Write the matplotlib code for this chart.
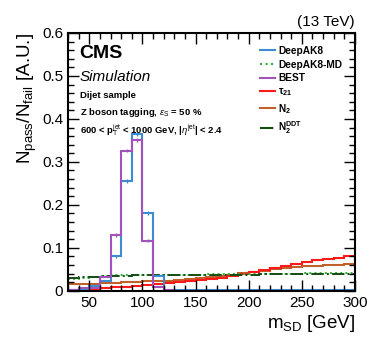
import numpy as np
import matplotlib
matplotlib.use("Agg")
import matplotlib.pyplot as plt
from matplotlib.ticker import MultipleLocator
from matplotlib.lines import Line2D

edges = np.arange(30, 301, 10)

deepak8 = [0.0, 0.003, 0.012, 0.023, 0.080, 0.256, 0.364, 0.181, 0.035, 0.003,
           0.002, 0.001, 0.001, 0.001, 0.001, 0.001, 0.001, 0.001, 0.001, 0.001,
           0.001, 0.001, 0.002, 0.002, 0.002, 0.002, 0.002]
best = [0.003, 0.006, 0.006, 0.033, 0.130, 0.326, 0.351, 0.117, 0.010, 0.001,
        0.0, 0.0, 0.0, 0.0, 0.0, 0.0, 0.0, 0.0, 0.0, 0.0,
        0.0, 0.0, 0.0, 0.0, 0.0, 0.0, 0.0]
tau21 = [0.003, 0.004, 0.005, 0.006, 0.008, 0.010, 0.012, 0.013, 0.015, 0.018,
         0.020, 0.022, 0.025, 0.028, 0.031, 0.035, 0.040, 0.045, 0.049, 0.054,
         0.059, 0.063, 0.067, 0.071, 0.074, 0.077, 0.081]
n2 = [0.015, 0.016, 0.017, 0.018, 0.019, 0.020, 0.021, 0.022, 0.023, 0.024,
      0.026, 0.028, 0.030, 0.032, 0.035, 0.038, 0.041, 0.044, 0.047, 0.050,
      0.053, 0.055, 0.057, 0.059, 0.060, 0.061, 0.062]
deepak8md = [0.028, 0.031, 0.033, 0.035, 0.036, 0.036, 0.037, 0.037, 0.037, 0.038,
             0.038, 0.038, 0.038, 0.039, 0.039, 0.039, 0.039, 0.039, 0.040, 0.040,
             0.040, 0.040, 0.041, 0.041, 0.041, 0.041, 0.041]
n2ddt = [0.030, 0.032, 0.033, 0.034, 0.035, 0.035, 0.036, 0.036, 0.036, 0.037,
         0.037, 0.037, 0.037, 0.038, 0.038, 0.038, 0.038, 0.038, 0.039, 0.039,
         0.039, 0.039, 0.039, 0.039, 0.039, 0.039, 0.039]

labels = ["DeepAK8", "DeepAK8-MD", "BEST", r"$\mathbf{\tau_{21}}$", r"N$_\mathbf{2}$", r"N$_\mathbf{2}^\mathbf{DDT}$"]
colors = ["#3d8bd0", "#2fb52f", "#a052bd", "#ff1a1a", "#c0602a", "#144d14"]
styles = ["-", ":", "-", "-", "-", "-."]

plt.rcParams['font.family'] = ['Liberation Sans', 'DejaVu Sans']
plt.rcParams['mathtext.fontset'] = 'custom'
plt.rcParams['mathtext.rm'] = 'Liberation Sans'
plt.rcParams['mathtext.it'] = 'Liberation Sans:italic'
plt.rcParams['mathtext.bf'] = 'Liberation Sans:bold'

fig = plt.figure(figsize=(3.74, 3.43), dpi=100)
ax = fig.add_axes([0.182, 0.152, 0.767, 0.752])

series = [deepak8, deepak8md, best, tau21, n2, n2ddt]
order = [4, 3, 1, 5, 0, 2]
centers = 0.5 * (edges[:-1] + edges[1:])
for i in order:
    v = np.array(series[i])
    ax.stairs(v, edges, color=colors[i], linestyle=styles[i],
              lw=1.5 if styles[i] == "-" else 1.4, baseline=None)
    if i in (0, 2):
        ax.errorbar(centers, v, yerr=0.004 * (v > 0.05), fmt='none', ecolor=colors[i], elinewidth=1.0)

lh = [Line2D([], [], color=colors[i], linestyle=styles[i], lw=1.5) for i in range(6)]
leg = ax.legend(lh, labels, loc='upper left', bbox_to_anchor=(0.655, 0.965), frameon=False,
                fontsize=7.3, handlelength=1.5, handletextpad=0.3, labelspacing=0.35, borderaxespad=0)
for t in leg.get_texts():
    t.set_fontweight('bold')

ax.set_xlim(30, 300)
ax.set_ylim(0, 0.6)
ax.xaxis.set_major_locator(MultipleLocator(50))
ax.xaxis.set_minor_locator(MultipleLocator(10))
ax.yaxis.set_major_locator(MultipleLocator(0.1))
ax.yaxis.set_minor_locator(MultipleLocator(0.02))
ax.tick_params(which='both', direction='in', top=True, right=True, labelsize=11)
ax.tick_params(which='major', length=8, width=1)
ax.tick_params(which='minor', length=4, width=1)
ax.set_yticks([0, 0.1, 0.2, 0.3, 0.4, 0.5, 0.6])
ax.set_yticklabels(["0", "0.1", "0.2", "0.3", "0.4", "0.5", "0.6"])
for s in ax.spines.values():
    s.set_linewidth(1.5)

ax.set_xlabel(r"m$_{\rm SD}$ [GeV]", fontsize=13.5, loc='right', labelpad=2)
ax.set_ylabel(r"N$_{\rm pass}$/N$_{\rm fail}$ [A.U.]", fontsize=13.5, loc='top', labelpad=2)

ax.text(1.0, 1.015, "(13 TeV)", transform=ax.transAxes, ha='right', va='bottom', fontsize=11)
ax.text(0.04, 0.955, "CMS", transform=ax.transAxes, ha='left', va='top', fontsize=14, fontweight='bold')
ax.text(0.04, 0.855, "Simulation", transform=ax.transAxes, ha='left', va='top', fontsize=11, style='italic')
ax.text(0.04, 0.775, "Dijet sample", transform=ax.transAxes, ha='left', va='top', fontsize=6.8, fontweight='bold')
ax.text(0.04, 0.715, r"Z boson tagging, $\epsilon_{\rm S}$ = 50 %", transform=ax.transAxes, ha='left', va='top', fontsize=6.8, fontweight='bold')
ax.text(0.04, 0.655, r"600 < p$_{\rm T}^{\rm jet}$ < 1000 GeV, |$\eta^{\rm jet}$| < 2.4", transform=ax.transAxes, ha='left', va='top', fontsize=6.8, fontweight='bold')

fig.savefig("out.png", dpi=100)
